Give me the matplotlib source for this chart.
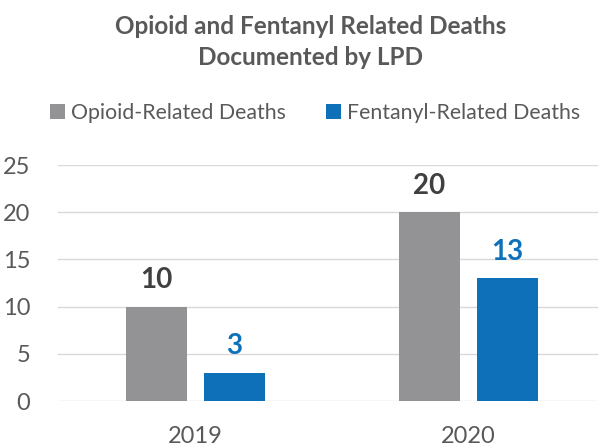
import numpy as np
import matplotlib.pyplot as plt

# data
years = ["2019", "2020"]
opioid = [10, 20]
fentanyl = [3, 13]
yticks = [0, 5, 10, 15, 20, 25]

gray = "#939396"
blue = "#0E70B8"
text_gray = "#595959"

plt.rcParams['font.family'] = ['Lato', 'DejaVu Sans']

fig = plt.figure(figsize=(5.98, 4.46), dpi=100)
ax = fig.add_axes([58 / 598, (446 - 401) / 446, 540 / 598, 236 / 446])

x = np.arange(len(years))
w = 0.223
off = 0.143
b1 = ax.bar(x - off, opioid, w, color=gray, label="Opioid-Related Deaths", zorder=3)
b2 = ax.bar(x + off, fentanyl, w, color=blue, label="Fentanyl-Related Deaths", zorder=3)

# value labels above bars
for rect, v in zip(b1, opioid):
    ax.text(rect.get_x() + rect.get_width() / 2, v + 2.8, str(v), ha="center", va="center",
            fontsize=20, fontweight="bold", color="#404040")
for rect, v in zip(b2, fentanyl):
    ax.text(rect.get_x() + rect.get_width() / 2, v + 2.8, str(v), ha="center", va="center",
            fontsize=20, fontweight="bold", color=blue)

ax.set_xlim(-0.503, 1.475)
ax.set_ylim(0, 25)
ax.set_yticks(yticks)
ax.set_xticks(x)
ax.set_xticklabels(years)
ax.tick_params(axis="both", length=0, labelsize=17, labelcolor=text_gray)
ax.tick_params(axis="y", pad=20)
ax.tick_params(axis="x", pad=18)
ax.grid(axis="y", color="#d9d9d9", linewidth=1, zorder=0)
for s in ax.spines.values():
    s.set_visible(False)

fig.text(0.519, 0.941, "Opioid and Fentanyl Related Deaths", ha="center", va="center",
         fontsize=17.5, fontweight="bold", color=text_gray)
fig.text(0.519, 0.87, "Documented by LPD", ha="center", va="center",
         fontsize=17.5, fontweight="bold", color=text_gray)

fig.legend(loc="center", bbox_to_anchor=(0.527, 0.747), ncol=2, frameon=False,
           fontsize=15.3, labelcolor=text_gray, handlelength=0.7, handleheight=0.7,
           handletextpad=0.3, columnspacing=1.9)

fig.savefig("out.png", dpi=100)
